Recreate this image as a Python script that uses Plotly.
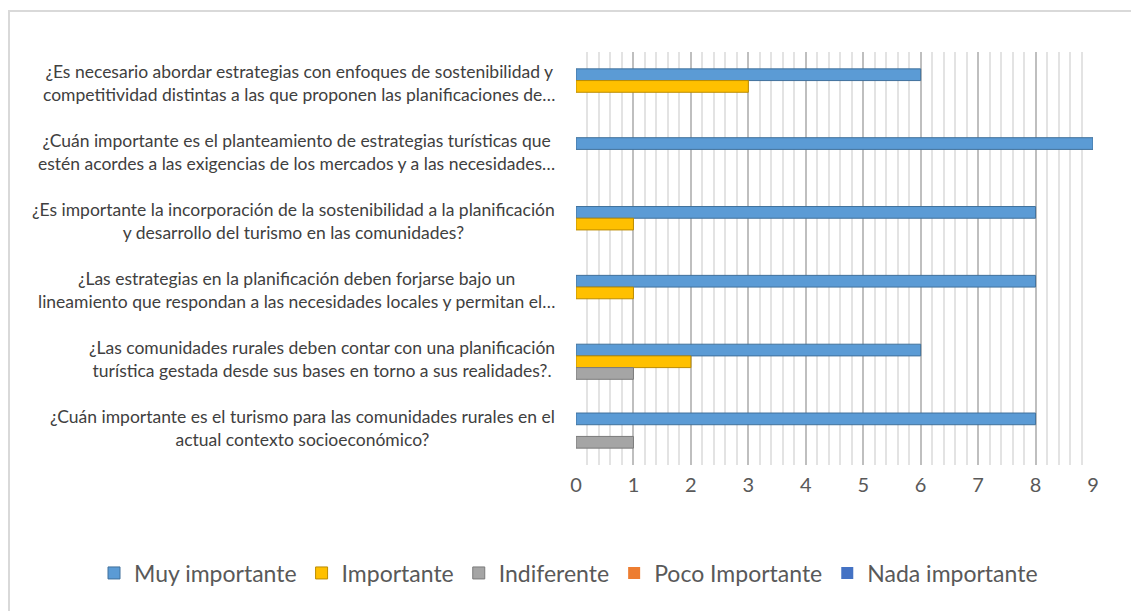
import plotly.graph_objects as go

# ---- Data ---------------------------------------------------------------
preguntas = [
    "¿Es necesario abordar estrategias con enfoques de sostenibilidad y<br>competitividad distintas a las que proponen las planificaciones de…",
    "¿Cuán importante es el planteamiento de estrategias turísticas que<br>estén acordes a las exigencias de los mercados y a las necesidades…",
    "¿Es importante la incorporación de la sostenibilidad a la planificación<br>y desarrollo del turismo en las comunidades?",
    "¿Las estrategias en la planificación deben forjarse bajo un<br>lineamiento que respondan a las necesidades locales y permitan el…",
    "¿Las comunidades rurales deben contar con una planificación<br>turística gestada desde sus bases en torno a sus realidades?.",
    "¿Cuán importante es el turismo para las comunidades rurales en el<br>actual contexto socioeconómico?",
]
cat_ids = ["q1", "q2", "q3", "q4", "q5", "q6"]

muy_importante = [6, 9, 8, 8, 6, 8]
importante = [3, 0, 1, 1, 2, 0]
indiferente = [0, 0, 0, 0, 1, 1]
poco_importante = [0, 0, 0, 0, 0, 0]
nada_importante = [0, 0, 0, 0, 0, 0]

x_ticks = [0, 1, 2, 3, 4, 5, 6, 7, 8, 9]

# ---- Figure -------------------------------------------------------------
W, H = 1131, 611
ML, MR, MT, MB = 576, 38, 52, 146
PW, PH = W - ML - MR, H - MT - MB

series = [
    ("Muy importante", muy_importante, "#5B9BD5", "#41719C", "a"),
    ("Importante", importante, "#FFC000", "#BC8C00", "b"),
    ("Indiferente", indiferente, "#A5A5A5", "#7B7B7B", "c"),
    ("Poco Importante", poco_importante, "#ED7D31", "#ED7D31", "c"),
    ("Nada importante", nada_importante, "#4472C4", "#4472C4", "c"),
]

fig = go.Figure()
for name, vals, color, edge, grp in series:
    has_data = any(v > 0 for v in vals)
    fig.add_trace(go.Bar(
        y=cat_ids,
        x=[v if v > 0 else None for v in vals],
        name=name,
        orientation="h",
        offsetgroup=grp,
        marker=dict(color=color,
                    line=dict(color=edge, width=1 if has_data else 0)),
        hoverinfo="x+name",
    ))

# category labels as centred two-line annotations
for cid, txt in zip(cat_ids, preguntas):
    fig.add_annotation(
        x=0, xref="paper", xshift=-19, yshift=3, xanchor="right",
        y=cid, yref="y", yanchor="middle",
        text=txt, align="center", showarrow=False,
        font=dict(family="Lato, sans-serif", size=17.5, color="#404040"),
    )

# light frame around the chart
fig.add_shape(
    type="rect", xref="paper", yref="paper",
    x0=(9 - ML) / PW, x1=(W + 5 - ML) / PW,
    y0=-(MB + 5) / PH, y1=1 + (MT - 11) / PH,
    line=dict(color="#D9D9D9", width=2), fillcolor="rgba(0,0,0,0)", layer="below",
)

fig.update_layout(
    width=W, height=H,
    barmode="group", bargap=0.49, bargroupgap=0,
    plot_bgcolor="white", paper_bgcolor="white",
    margin=dict(l=ML, r=MR, t=MT, b=MB),
    font=dict(family="Lato, sans-serif", color="#595959"),
    legend=dict(orientation="h", x=(94 - ML) / PW, xanchor="left",
                y=(MT + PH - 573) / PH, yanchor="middle",
                font=dict(size=23, color="#595959"),
                traceorder="normal"),
    showlegend=True,
)
fig.update_xaxes(
    range=[0, 9.0], tickvals=x_ticks, ticktext=[str(t) for t in x_ticks],
    showgrid=True, gridcolor="#BFBFBF", gridwidth=2,
    minor=dict(dtick=0.2, showgrid=True, gridcolor="#E3E3E3", gridwidth=2),
    zeroline=False, showline=False, ticks="",
    ticklabelstandoff=6,
    tickfont=dict(size=20, color="#595959"),
)
fig.update_yaxes(
    categoryorder="array", categoryarray=cat_ids, autorange="reversed",
    showticklabels=False, showgrid=False, zeroline=False, showline=False,
)

fig.write_html("out.html", config={"displayModeBar": False},
               post_script="document.body.style.margin='0px';")
